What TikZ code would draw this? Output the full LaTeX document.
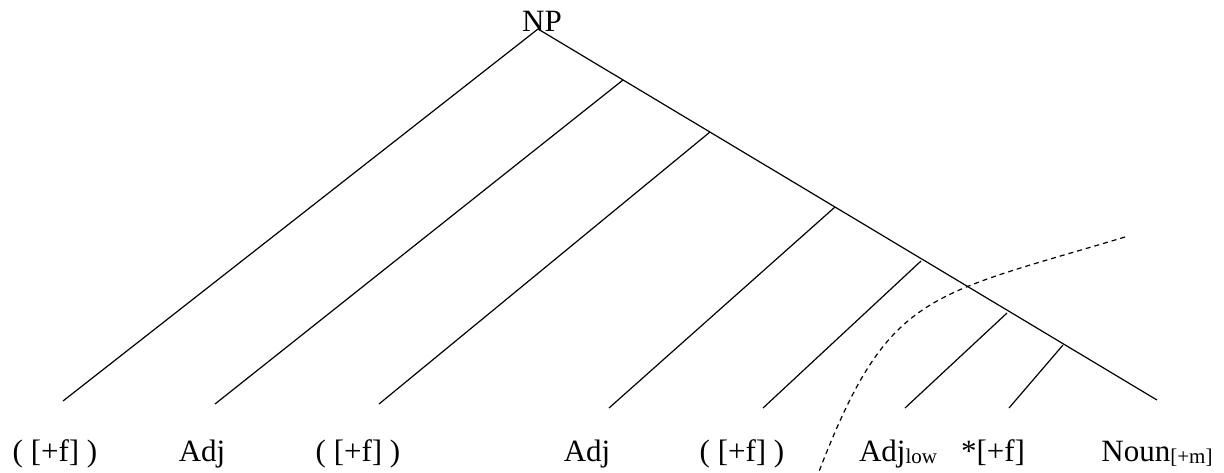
\documentclass[tikz,border=0pt]{standalone}
\usepackage{fontspec}
\setmainfont{Liberation Serif}
\newcommand{\lowsub}[1]{\raisebox{-1.2pt}{\fontsize{10.5}{12}\selectfont #1}}
\begin{document}
\begin{tikzpicture}[x=0.5pt,y=-0.5pt,
  tree/.style={line width=0.6pt},
  lab/.style={font=\fontsize{15.5}{18}\selectfont, anchor=base, inner sep=0pt},
  cut/.style={line width=0.6pt, dash pattern=on 2.5pt off 2pt}]
\useasboundingbox (0,0) rectangle (1224,472);
% root
\node[lab] (np) at (542,31) {NP};
\coordinate (top) at (538,29);
\coordinate (end) at (1157,400);
% branch points on the spine
\coordinate (b1) at (623,80);
\coordinate (b2) at (710,132);
\coordinate (b3) at (835,207);
\coordinate (b4) at (921,261);
\coordinate (b5) at (1007,313);
\coordinate (b6) at (1063,345);
% leaf ends
\coordinate (e0) at (63,401);
\coordinate (e1) at (215,404);
\coordinate (e2) at (379,404);
\coordinate (e3) at (609,408);
\coordinate (e4) at (763,408);
\coordinate (e5) at (905,408);
\coordinate (e6) at (1009,408);
% tree lines
\draw[tree] (top) -- (end);
\draw[tree] (top) -- (e0);
\draw[tree] (b1) -- (e1);
\draw[tree] (b2) -- (e2);
\draw[tree] (b3) -- (e3);
\draw[tree] (b4) -- (e4);
\draw[tree] (b5) -- (e5);
\draw[tree] (b6) -- (e6);
% labels
\node[lab] (l0) at (55,461) {( [+f] )};
\node[lab] (l1) at (202,461) {Adj};
\node[lab] (l2) at (358,461) {( [+f] )};
\node[lab] (l3) at (587,461) {Adj};
\node[lab] (l4) at (742,461) {( [+f] )};
\node[lab] (l5) at (898,461) {Adj\lowsub{low}};
\node[lab] (l6) at (993,461) {*[+f]};
\node[lab] (l7) at (1157,461) {Noun\lowsub{[+m]}};
% dashed cut
\coordinate (c0) at (1125,237);
\coordinate (c1) at (818,474);
\draw[cut] (c0) .. controls (925,297) and (888,292) .. (c1);
\end{tikzpicture}
\end{document}
